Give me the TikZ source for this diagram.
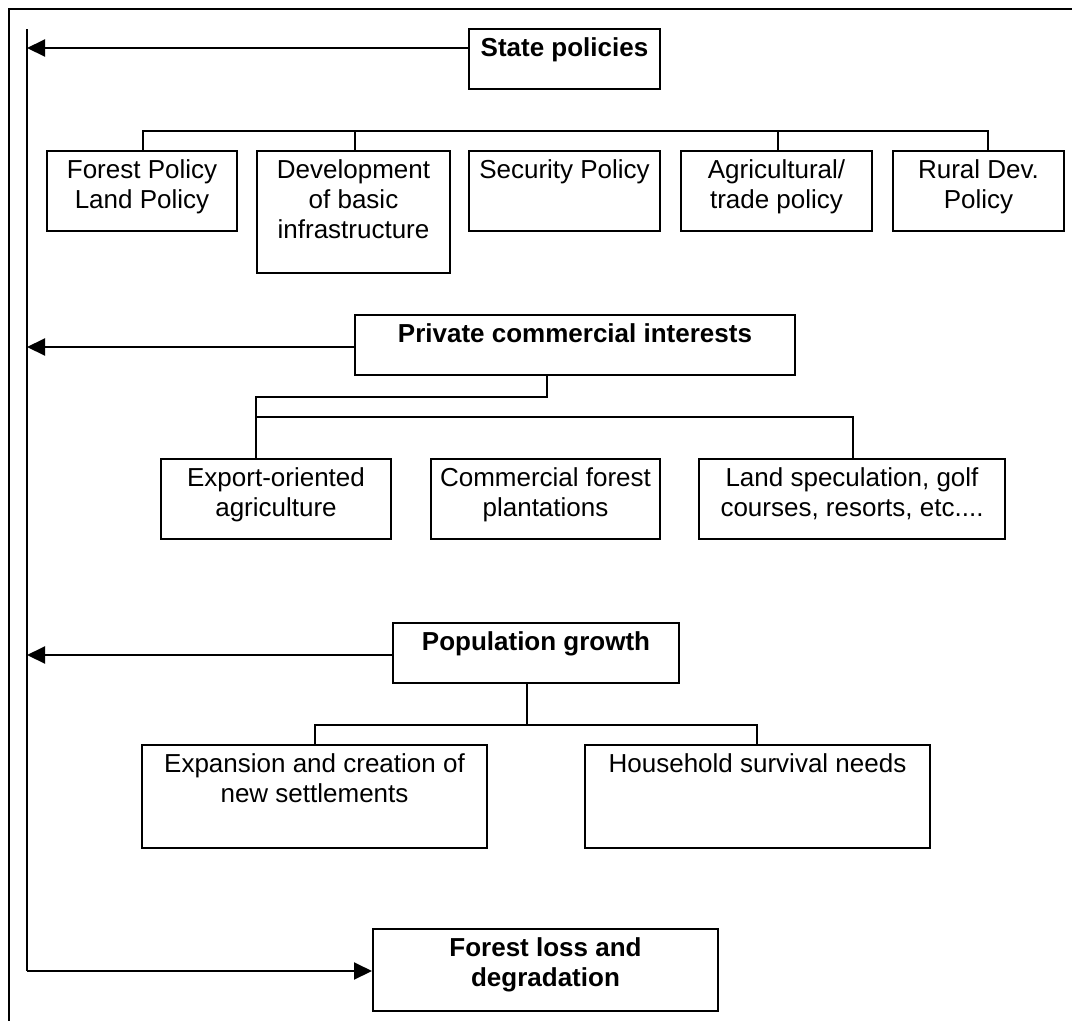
\documentclass[tikz,border=0pt]{standalone}
\usepackage{fontspec}
\setmainfont{Liberation Sans}
\usetikzlibrary{arrows.meta}
\newcommand\fstrut{\vrule height 20pt depth 0pt width 0pt}
\begin{document}
\begin{tikzpicture}[x=1pt,y=-1pt,
  box/.style={draw, line width=2pt, inner sep=0pt},
  txt/.style={anchor=north, inner sep=0pt, align=center, font=\fontsize{26}{30}\selectfont},
  txtb/.style={txt, font=\fontsize{26}{30}\selectfont\bfseries},
  link/.style={line width=2pt},
  arr/.style={line width=2pt, -{Triangle[length=18pt,width=17pt]}}]
\useasboundingbox (0,0) rectangle (1072,1021);
% frame
\draw[line width=2pt] (9,1021) -- (9,9) -- (1072,9);

% boxes
\node[box, minimum width=191pt, minimum height=60pt]  (state)  at (564.5,59) {};
\node[box, minimum width=190pt, minimum height=80pt]  (forest) at (142,191) {};
\node[box, minimum width=193pt, minimum height=122pt] (dev)    at (353.5,212) {};
\node[box, minimum width=191pt, minimum height=80pt]  (sec)    at (564.5,191) {};
\node[box, minimum width=191pt, minimum height=80pt]  (agri)   at (776.5,191) {};
\node[box, minimum width=171pt, minimum height=80pt]  (rural)  at (978.5,191) {};

\node[box, minimum width=440pt, minimum height=60pt]  (priv)   at (575,345) {};
\node[box, minimum width=230pt, minimum height=80pt]  (export) at (276,499) {};
\node[box, minimum width=229pt, minimum height=80pt]  (comm)   at (545.5,499) {};
\node[box, minimum width=306pt, minimum height=80pt]  (land)   at (852,499) {};

\node[box, minimum width=286pt, minimum height=60pt]  (pop)    at (536,653) {};
\node[box, minimum width=345pt, minimum height=103pt] (exp)    at (314.5,796.5) {};
\node[box, minimum width=345pt, minimum height=103pt] (house)  at (757.5,796.5) {};

\node[box, minimum width=345pt, minimum height=82pt]  (loss)   at (545.5,970) {};

% texts
\node[txtb] (statet)  at ([yshift=-8pt]state.north)  {\fstrut State policies};
\node[txt]  (forestt) at ([yshift=-8pt]forest.north) {\fstrut Forest Policy\\Land Policy};
\node[txt]  (devt)    at ([yshift=-8pt]dev.north)    {\fstrut Development\\of basic\\infrastructure};
\node[txt]  (sect)    at ([yshift=-8pt]sec.north)    {\fstrut Security Policy};
\node[txt]  (agrit)   at ([yshift=-8pt]agri.north)   {\fstrut Agricultural/\\trade policy};
\node[txt]  (ruralt)  at ([yshift=-8pt]rural.north)  {\fstrut Rural Dev.\\Policy};
\node[txtb] (privt)   at ([yshift=-8pt]priv.north)   {\fstrut Private commercial interests};
\node[txt]  (exportt) at ([yshift=-8pt]export.north) {\fstrut Export-oriented\\agriculture};
\node[txt]  (commt)   at ([yshift=-8pt]comm.north)   {\fstrut Commercial forest\\plantations};
\node[txt]  (landt)   at ([yshift=-8pt]land.north)   {\fstrut Land speculation, golf\\courses, resorts, etc....};
\node[txtb] (popt)    at ([yshift=-8pt]pop.north)    {\fstrut Population growth};
\node[txt]  (expt)    at ([yshift=-8pt]exp.north)    {\fstrut Expansion and creation of\\new settlements};
\node[txt]  (houset)  at ([yshift=-8pt]house.north)  {\fstrut Household survival needs};
\node[txtb] (losst)   at ([yshift=-8pt]loss.north)   {\fstrut Forest loss and\\degradation};

% trunk line
\coordinate (trunktop) at (27,29);
\coordinate (trunkbot) at (27,971);
\draw[link] (trunktop) -- (trunkbot);

% arrows to trunk
\coordinate (sa) at ([yshift=11pt]state.west);
\draw[arr] (sa) -- (sa -| trunktop);
\coordinate (pa) at ([yshift=-2pt]priv.west);
\draw[arr] (pa) -- (pa -| trunktop);
\coordinate (ga) at ([yshift=-2pt]pop.west);
\draw[arr] (ga) -- (ga -| trunktop);
\draw[arr] (trunkbot) -- (trunkbot -| loss.west);

% state policies bus
\coordinate (sbus) at (0,131);
\coordinate (fdrop) at (143,151);
\coordinate (ddrop) at (355,151);
\coordinate (adrop) at (778,151);
\coordinate (rdrop) at (988,151);
\draw[link] (fdrop) -- (fdrop |- sbus) -- (rdrop |- sbus) -- (rdrop);
\draw[link] (ddrop) -- (ddrop |- sbus);
\draw[link] (adrop) -- (adrop |- sbus);

% private interests bus
\coordinate (pj) at (0,397);
\coordinate (pbus) at (0,417);
\coordinate (pdrop) at (547,375);
\coordinate (edrop) at (256,459);
\coordinate (ldrop) at (853,459);
\draw[link] (pdrop) -- (pdrop |- pj) -- (edrop |- pj) -- (edrop);
\draw[link] (edrop |- pbus) -- (ldrop |- pbus) -- (ldrop);

% population bus
\coordinate (popbus) at (0,725);
\coordinate (popdrop) at (527,683);
\coordinate (xdrop) at (315,745);
\coordinate (hdrop) at (757,745);
\draw[link] (popdrop) -- (popdrop |- popbus);
\draw[link] (xdrop) -- (xdrop |- popbus) -- (hdrop |- popbus) -- (hdrop);
\end{tikzpicture}
\end{document}
